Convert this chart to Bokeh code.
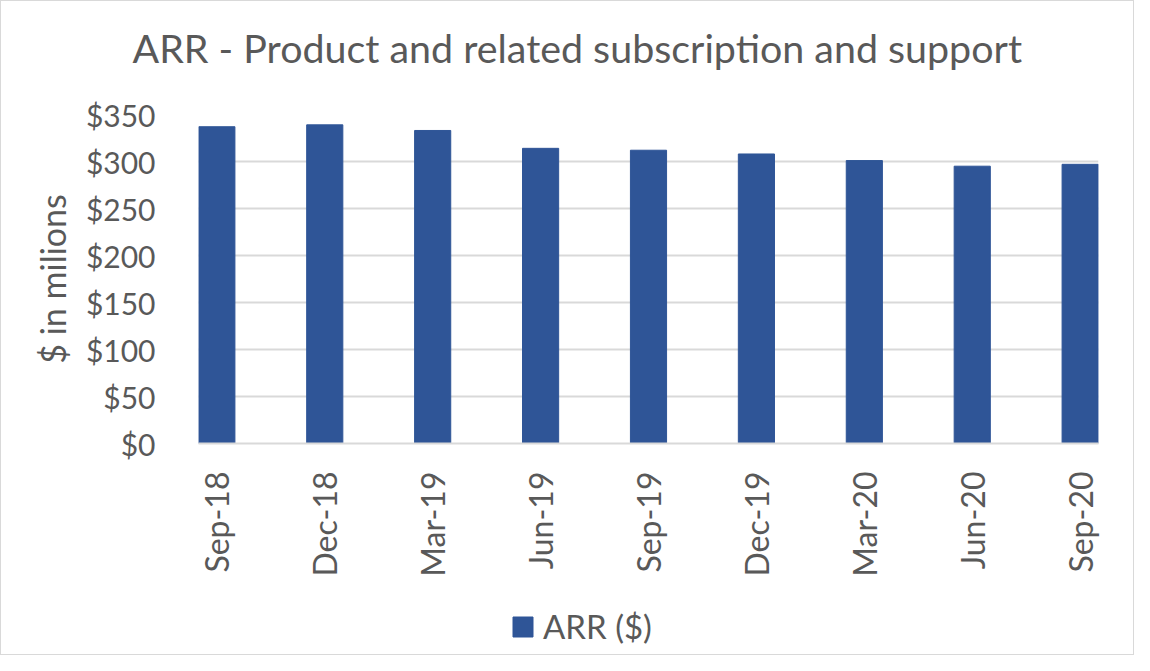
from bokeh.plotting import figure
from bokeh.models import Range1d, FixedTicker, Legend, LegendItem, Title
from bokeh.layouts import column
from bokeh.embed import file_html
from bokeh.resources import INLINE
import math

categories = ["Sep-18", "Dec-18", "Mar-19", "Jun-19", "Sep-19", "Dec-19", "Mar-20", "Jun-20", "Sep-20"]
arr_values = [337, 339, 333, 314, 312, 308, 301, 295, 297]
y_ticks = [0, 50, 100, 150, 200, 250, 300, 350]
y_tick_labels = ["$0", "$50", "$100", "$150", "$200", "$250", "$300", "$350"]
title_text = "ARR - Product and related subscription and support"
y_label = "$ in milions"
series_name = "ARR ($)"

FONT = "Lato"
TXT = "#595959"
BAR = "#2F5597"
GRID = "#D9D9D9"

xs = list(range(len(categories)))

p = figure(width=1134, height=585, output_backend="svg", toolbar_location=None,
           x_range=Range1d(-0.17, len(categories) - 1 + 0.17), y_range=Range1d(0, 350),
           min_border_left=197, min_border_right=37, min_border_top=113, min_border_bottom=143)
p.outline_line_color = None
p.styles = {"border": "1px solid #D9D9D9", "border-bottom": "none", "box-sizing": "border-box"}

r = p.vbar(x=xs, top=arr_values, width=0.335, color=BAR)

# title (spacer next to the frame, then the real title)
p.add_layout(Title(text=" ", text_font_size="33.5px", standoff=0), "above")
p.add_layout(Title(text=title_text, text_font=FONT, text_font_size="39.4px",
                   text_font_style="normal", text_color=TXT, align="left",
                   offset=-66, standoff=10), "above")

# x axis
p.xaxis.ticker = FixedTicker(ticks=xs)
p.xaxis.major_label_overrides = {i: c for i, c in zip(xs, categories)}
p.xaxis.major_label_orientation = math.pi / 2
p.xaxis.major_label_text_font = FONT
p.xaxis.major_label_text_font_size = "32px"
p.xaxis.major_label_text_color = TXT
p.xaxis.major_label_standoff = 22
p.xaxis.major_tick_line_color = None
p.xaxis.minor_tick_line_color = None
p.xaxis.axis_line_color = GRID
p.xaxis.axis_line_width = 2
p.xgrid.grid_line_color = None

# y axis
p.yaxis.ticker = FixedTicker(ticks=y_ticks)
p.yaxis.major_label_overrides = {t: l for t, l in zip(y_ticks, y_tick_labels)}
p.yaxis.major_label_text_font = FONT
p.yaxis.major_label_text_font_size = "30px"
p.yaxis.major_label_text_color = TXT
p.yaxis.major_label_standoff = 37
p.yaxis.major_tick_line_color = None
p.yaxis.minor_tick_line_color = None
p.yaxis.axis_line_color = None
p.yaxis.axis_label = y_label
p.yaxis.axis_label_text_font = FONT
p.yaxis.axis_label_text_font_size = "34px"
p.yaxis.axis_label_text_font_style = "normal"
p.yaxis.axis_label_text_color = TXT
p.yaxis.axis_label_standoff = 10
p.ygrid.grid_line_color = GRID
p.ygrid.grid_line_width = 2

# legend strip below the chart (its frame is aligned with the chart's frame)
lf = figure(width=1134, height=70, output_backend="svg", toolbar_location=None,
            x_axis_location=None, y_axis_location=None, x_range=Range1d(0, 1), y_range=Range1d(0, 1),
            min_border=0)
lf.outline_line_color = None
lf.grid.grid_line_color = None
lf.styles = {"border": "1px solid #D9D9D9", "border-top": "none", "box-sizing": "border-box"}
key = lf.vbar(x=[xs[0]], top=[arr_values[0]], width=0.335, color=BAR, visible=False)
legend = Legend(items=[LegendItem(label=series_name, renderers=[key])], location=(312, 9),
                orientation="horizontal", padding=0, margin=0, border_line_color=None,
                background_fill_alpha=0, glyph_width=25, glyph_height=25, label_standoff=8,
                inactive_fill_alpha=0,
                label_text_font=FONT, label_text_font_size="33px", label_text_color=TXT)
lf.add_layout(legend, "center")

layout = column(p, lf, spacing=0)
open("out.html", "w").write(file_html(layout, INLINE))
